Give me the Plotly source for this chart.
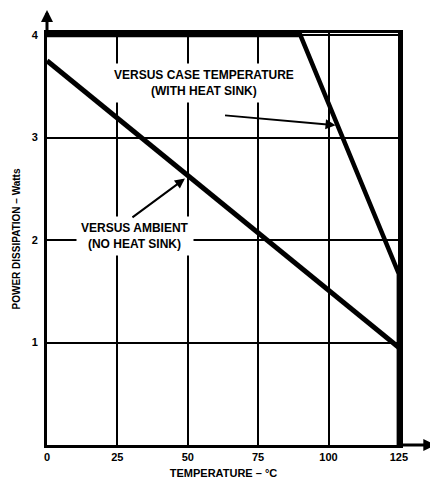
import plotly.graph_objects as go

# ---- data ----
temp_case = [0, 90, 125, 125]
power_case = [4.0, 4.0, 1.67, 0.0]
temp_ambient = [0, 125]
power_ambient = [3.75, 0.95]

x_ticks = [0, 25, 50, 75, 100, 125]
x_ticklabels = ["0", "25", "50", "75", "100", "125"]
y_ticks = [1, 2, 3, 4]
y_ticklabels = ["1", "2", "3", "4"]

label_case = "<b>VERSUS CASE TEMPERATURE<br>(WITH HEAT SINK)</b>"
label_ambient = "<b>VERSUS AMBIENT<br>(NO HEAT SINK)</b>"
x_title = "<b>TEMPERATURE – °C</b>"
y_title = "<b>POWER DISSIPATION – Watts</b>"

FONT = "Liberation Sans, Arial, sans-serif"

fig = go.Figure()
fig.add_trace(go.Scatter(x=temp_case, y=power_case, mode="lines",
                         line=dict(color="black", width=4.5), showlegend=False,
                         hoverinfo="skip"))
fig.add_trace(go.Scatter(x=temp_ambient, y=power_ambient, mode="lines",
                         line=dict(color="black", width=5), showlegend=False,
                         hoverinfo="skip"))

# labels with white background (break the grid)
fig.add_annotation(x=0.445, y=0.879, xref="paper", yref="paper", text=label_case,
                   xanchor="center", yanchor="middle",
                   showarrow=False, bgcolor="white", borderpad=4,
                   font=dict(family=FONT, size=12, color="black"))
fig.add_annotation(x=0.25, y=0.507, xref="paper", yref="paper", text=label_ambient,
                   xanchor="center", yanchor="middle",
                   showarrow=False, bgcolor="white", borderpad=4,
                   font=dict(family=FONT, size=12, color="black"))

# pointer arrows
fig.add_annotation(x=102.5, y=3.12, xref="x", yref="y", text="", showarrow=True,
                   ax=-112, ay=-10, arrowhead=2, arrowsize=1, arrowwidth=2,
                   arrowcolor="black")
fig.add_annotation(x=49, y=2.6, xref="x", yref="y", text="", showarrow=True,
                   ax=-54, ay=40, arrowhead=2, arrowsize=1, arrowwidth=2,
                   arrowcolor="black")

# axis extension arrows
fig.add_annotation(x=1.1, y=0, xref="paper", yref="paper", ax=-36, ay=0,
                   text="", showarrow=True,
                   arrowhead=2, arrowsize=0.8, arrowwidth=3, arrowcolor="black")
fig.add_annotation(x=0, y=1.056, xref="paper", yref="paper", ax=0, ay=24,
                   text="", showarrow=True,
                   arrowhead=2, arrowsize=0.8, arrowwidth=3, arrowcolor="black")

fig.update_xaxes(range=[0, 125.4], tickvals=x_ticks, ticktext=x_ticklabels,
                 showgrid=True, gridcolor="black", gridwidth=1.5,
                 showline=True, linecolor="black", linewidth=3, mirror=True,
                 ticks="", zeroline=False, automargin=False,
                 tickfont=dict(family=FONT, size=11, color="black", weight="bold"),
                 title=dict(text=x_title, standoff=8,
                            font=dict(family=FONT, size=11, color="black")))
fig.update_yaxes(range=[0, 4.02], tickvals=y_ticks, ticktext=y_ticklabels,
                 showgrid=True, gridcolor="black", gridwidth=1.5,
                 showline=True, linecolor="black", linewidth=3, mirror=True,
                 ticks="", zeroline=False, ticklabelstandoff=4, automargin=False,
                 tickfont=dict(family=FONT, size=11, color="black", weight="bold"),
                 title=dict(text=y_title, standoff=10,
                            font=dict(family=FONT, size=10, color="black")))

# page body adds an 8px offset, so the figure is sized to fit the window
fig.update_layout(width=430, height=476,
                  margin=dict(l=39, r=38, t=25, b=39),
                  paper_bgcolor="white", plot_bgcolor="white")

fig.write_html("out.html")
